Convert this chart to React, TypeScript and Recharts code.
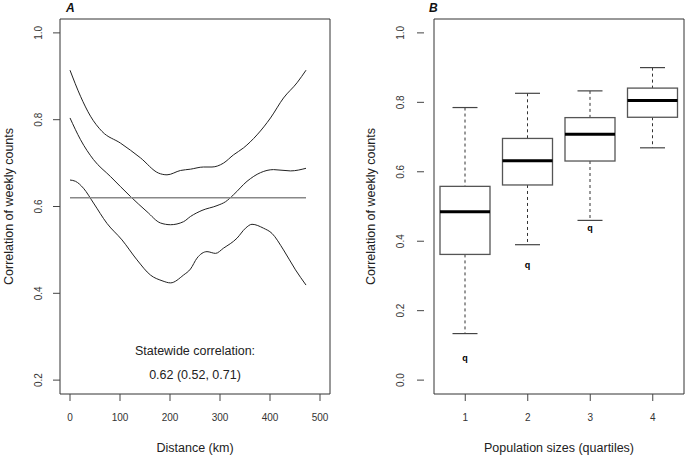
import React from 'react';
import {
  LineChart,
  Line,
  XAxis,
  YAxis,
  ReferenceArea,
  ReferenceDot,
  ComposedChart,
  Bar,
} from 'recharts';

// ---------- Panel A data ----------
const upperCurve = [
  { x: 0, y: 0.914 }, { x: 21, y: 0.854 }, { x: 41, y: 0.808 }, { x: 64, y: 0.773 },
  { x: 101, y: 0.746 }, { x: 141, y: 0.712 }, { x: 177, y: 0.677 }, { x: 194, y: 0.673 },
  { x: 221, y: 0.683 }, { x: 241, y: 0.686 }, { x: 267, y: 0.691 }, { x: 284, y: 0.691 },
  { x: 307, y: 0.7 }, { x: 327, y: 0.719 }, { x: 347, y: 0.735 }, { x: 374, y: 0.765 },
  { x: 401, y: 0.804 }, { x: 427, y: 0.85 }, { x: 454, y: 0.885 }, { x: 472, y: 0.914 },
];
const middleCurve = [
  { x: 0, y: 0.804 }, { x: 21, y: 0.754 }, { x: 47, y: 0.708 }, { x: 81, y: 0.669 },
  { x: 121, y: 0.623 }, { x: 154, y: 0.588 }, { x: 181, y: 0.562 }, { x: 201, y: 0.558 },
  { x: 227, y: 0.565 }, { x: 241, y: 0.577 }, { x: 264, y: 0.591 }, { x: 294, y: 0.602 },
  { x: 311, y: 0.611 }, { x: 327, y: 0.627 }, { x: 354, y: 0.658 }, { x: 381, y: 0.678 },
  { x: 407, y: 0.685 }, { x: 441, y: 0.682 }, { x: 472, y: 0.688 },
];
const lowerCurve = [
  { x: 0, y: 0.661 }, { x: 11, y: 0.658 }, { x: 27, y: 0.642 }, { x: 47, y: 0.608 },
  { x: 74, y: 0.561 }, { x: 104, y: 0.523 }, { x: 134, y: 0.477 }, { x: 161, y: 0.442 },
  { x: 184, y: 0.429 }, { x: 201, y: 0.424 }, { x: 227, y: 0.442 }, { x: 241, y: 0.456 },
  { x: 254, y: 0.481 }, { x: 274, y: 0.496 }, { x: 291, y: 0.492 }, { x: 307, y: 0.504 },
  { x: 334, y: 0.527 }, { x: 351, y: 0.55 }, { x: 364, y: 0.559 }, { x: 387, y: 0.55 },
  { x: 404, y: 0.538 }, { x: 427, y: 0.5 }, { x: 451, y: 0.454 }, { x: 472, y: 0.419 },
];
const statewideLine = [
  { x: 0, y: 0.62 },
  { x: 472, y: 0.62 },
];
const distanceTicks = [0, 100, 200, 300, 400, 500];
const corrTicksA = [0.2, 0.4, 0.6, 0.8, 1.0];
const annotationLines = ['Statewide correlation:', '0.62 (0.52, 0.71)'];

// ---------- Panel B data ----------
const groups = ['1', '2', '3', '4'];
const mins = [0.134, 0.39, 0.46, 0.669];
const q1s = [0.362, 0.562, 0.631, 0.757];
const medians = [0.485, 0.632, 0.708, 0.805];
const q3s = [0.558, 0.696, 0.756, 0.841];
const maxs = [0.785, 0.826, 0.833, 0.9];
const outliers: (number | null)[] = [0.06, 0.329, 0.434, null];
const corrTicksB = [0.0, 0.2, 0.4, 0.6, 0.8, 1.0];

const boxData = groups.map((g, i) => ({
  group: g,
  min: mins[i],
  q1: q1s[i],
  median: medians[i],
  q3: q3s[i],
  max: maxs[i],
  outlier: outliers[i],
}));

const FONT = '"Liberation Sans", Arial, sans-serif';
const TEXT = '#222';

const RotatedYTick = (props: any) => {
  const { x, y, payload } = props;
  return (
    <text
      x={x}
      y={y}
      transform={`rotate(-90 ${x} ${y})`}
      textAnchor="middle"
      fontSize={10}
      fontFamily={FONT}
      fill="#333"
    >
      {payload.value.toFixed(1)}
    </text>
  );
};

const makeYTitle = (offset: number) => (props: any) => {
  const vb = props.viewBox;
  const cx = vb.x + offset;
  const cy = vb.y + vb.height / 2;
  return (
    <text
      x={cx}
      y={cy}
      transform={`rotate(-90 ${cx} ${cy})`}
      textAnchor="middle"
      fontSize={12.5}
      fontFamily={FONT}
      fill={TEXT}
    >
      Correlation of weekly counts
    </text>
  );
};

const makeXTitle = (label: string) => (props: any) => {
  const vb = props.viewBox;
  return (
    <text
      x={vb.x + vb.width / 2}
      y={vb.y + 58}
      textAnchor="middle"
      fontSize={12.5}
      fontFamily={FONT}
      fill={TEXT}
    >
      {label}
    </text>
  );
};

const BoxShape = (props: any) => {
  const { x, y, width, height, payload } = props;
  if (payload == null || height == null) return null;
  const top = Math.min(y, y + height);
  const bot = Math.max(y, y + height);
  const k = (bot - top) / (payload.max - payload.min);
  const py = (v: number) => top + (payload.max - v) * k;
  const cx = x + width / 2;
  const cap = width / 4;
  return (
    <g>
      <line x1={cx} x2={cx} y1={py(payload.max)} y2={py(payload.q3)} stroke="#333" strokeDasharray="3 3" />
      <line x1={cx} x2={cx} y1={py(payload.q1)} y2={py(payload.min)} stroke="#333" strokeDasharray="3 3" />
      <line x1={cx - cap} x2={cx + cap} y1={py(payload.max)} y2={py(payload.max)} stroke="#444" strokeWidth={1.2} />
      <line x1={cx - cap} x2={cx + cap} y1={py(payload.min)} y2={py(payload.min)} stroke="#444" strokeWidth={1.2} />
      <rect
        x={x}
        y={py(payload.q3)}
        width={width}
        height={py(payload.q1) - py(payload.q3)}
        fill="#fff"
        stroke="#555"
        strokeWidth={1.3}
      />
      <line x1={x} x2={x + width} y1={py(payload.median)} y2={py(payload.median)} stroke="#000" strokeWidth={3} />
      {payload.outlier != null && (
        <text
          x={cx}
          y={py(payload.outlier) + 2}
          textAnchor="middle"
          fontSize={9}
          fontWeight="bold"
          fontFamily={FONT}
          fill="#000"
        >
          q
        </text>
      )}
    </g>
  );
};

const panelLabel = (left: number): React.CSSProperties => ({
  position: 'absolute',
  left,
  top: 1,
  fontFamily: FONT,
  fontSize: 12,
  fontWeight: 'bold',
  fontStyle: 'italic',
  color: '#111',
  lineHeight: '14px',
});

export default function App() {
  return (
    <div style={{ position: 'absolute', left: 0, top: 0, width: 697, height: 458, background: '#fff' }}>
      <div style={{ position: 'absolute', left: 0, top: 0 }}>
        <LineChart width={350} height={458} margin={{ top: 19, right: 20, bottom: 0, left: 0 }}>
          <XAxis
            type="number"
            dataKey="x"
            domain={[-20, 520]}
            ticks={distanceTicks}
            allowDataOverflow
            axisLine={false}
            tickSize={7}
            tickMargin={13}
            tickLine={{ stroke: '#444' }}
            tick={{ fontSize: 10, fontFamily: FONT, fill: '#333' }}
            height={64}
            label={makeXTitle('Distance (km)')}
          />
          <YAxis
            type="number"
            domain={[0.168, 1.032]}
            ticks={corrTicksA}
            allowDataOverflow
            axisLine={false}
            tickSize={7}
            tickMargin={11}
            tickLine={{ stroke: '#444' }}
            tick={<RotatedYTick />}
            width={60}
            label={makeYTitle(12.5)}
          />
          <ReferenceArea y1={0.168} y2={1.032} fill="none" fillOpacity={0} stroke="#333" strokeWidth={1} />
          <Line data={upperCurve} dataKey="y" type="monotone" stroke="#222" strokeWidth={1} dot={false} isAnimationActive={false} />
          <Line data={middleCurve} dataKey="y" type="monotone" stroke="#222" strokeWidth={1} dot={false} isAnimationActive={false} />
          <Line data={lowerCurve} dataKey="y" type="monotone" stroke="#222" strokeWidth={1} dot={false} isAnimationActive={false} />
          <Line data={statewideLine} dataKey="y" type="linear" stroke="#888" strokeWidth={1.5} dot={false} isAnimationActive={false} />
          <ReferenceDot
            x={250}
            y={0.269}
            r={1}
            fill="none"
            stroke="none"
            label={{ value: annotationLines[0], position: 'center', fontSize: 12.5, fontFamily: FONT, fill: TEXT }}
          />
          <ReferenceDot
            x={250}
            y={0.212}
            r={1}
            fill="none"
            stroke="none"
            label={{ value: annotationLines[1], position: 'center', fontSize: 12.5, fontFamily: FONT, fill: TEXT }}
          />
        </LineChart>
      </div>
      <div style={{ position: 'absolute', left: 347, top: 0 }}>
        <ComposedChart width={350} height={458} data={boxData} margin={{ top: 19, right: 3, bottom: 0, left: 0 }}>
          <XAxis
            type="category"
            dataKey="group"
            padding={{ left: 10, right: 10 }}
            axisLine={false}
            tickSize={7}
            tickMargin={13}
            tickLine={{ stroke: '#444' }}
            tick={{ fontSize: 10, fontFamily: FONT, fill: '#333' }}
            height={64}
            label={makeXTitle('Population sizes (quartiles)')}
          />
          <YAxis
            type="number"
            domain={[-0.04, 1.04]}
            ticks={corrTicksB}
            allowDataOverflow
            axisLine={false}
            tickSize={7}
            tickMargin={13}
            tickLine={{ stroke: '#444' }}
            tick={<RotatedYTick />}
            width={77}
            label={makeYTitle(28)}
          />
          <ReferenceArea y1={-0.04} y2={1.04} fill="none" fillOpacity={0} stroke="#333" strokeWidth={1} />
          <Bar
            dataKey={(d: any) => [d.min, d.max]}
            barSize={50}
            shape={<BoxShape />}
            isAnimationActive={false}
          />
        </ComposedChart>
      </div>
      <div style={panelLabel(66)}>A</div>
      <div style={panelLabel(429)}>B</div>
    </div>
  );
}
